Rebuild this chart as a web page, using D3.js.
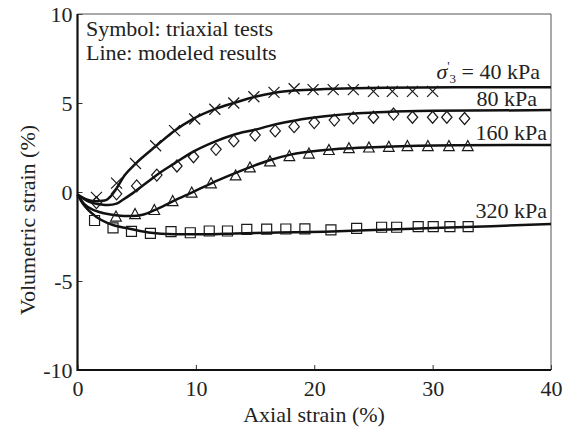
<!DOCTYPE html>
<html>
<head>
<meta charset="utf-8">
<script src="https://cdn.jsdelivr.net/npm/d3@7"></script>
<style>
  html, body { margin: 0; padding: 0; background: #fff; }
  svg { display: block; font-family: "Liberation Serif", "Times New Roman", serif; }
  .tick text { font-size: 22px; fill: #222; }
</style>
</head>
<body>
<svg id="chart" width="585" height="432"></svg>
<script>
// Triaxial test points, [axial strain %, volumetric strain %]
const testsCross40 = [
  [1.6, -0.3], [3.3, 0.5], [4.9, 1.6], [6.6, 2.6], [8.2, 3.45], [9.9, 4.1],
  [11.6, 4.65], [13.2, 5.0], [14.9, 5.35], [16.6, 5.6], [18.3, 5.8], [19.9, 5.75],
  [21.6, 5.75], [23.3, 5.75], [25.0, 5.65], [26.6, 5.65], [28.3, 5.65], [30.0, 5.65]
];
const testsDiamond80 = [
  [1.6, -0.6], [3.3, -0.1], [5.0, 0.34], [6.7, 0.95], [8.4, 1.46], [9.8, 1.98],
  [11.7, 2.4], [13.2, 2.87], [15.0, 3.2], [16.7, 3.43], [18.3, 3.67], [20.0, 3.9],
  [21.7, 4.04], [23.3, 4.16], [25.0, 4.2], [26.7, 4.38], [28.3, 4.2], [30.0, 4.2],
  [31.2, 4.2], [32.7, 4.13]
];
const testsTriangle160 = [
  [3.25, -1.38], [4.86, -1.24], [6.49, -1.01], [8.04, -0.51], [9.65, -0.03],
  [11.28, 0.49], [13.36, 0.93], [14.57, 1.38], [16.26, 1.72], [17.9, 2.02],
  [19.55, 2.16], [21.24, 2.36], [22.93, 2.46], [24.62, 2.5], [26.3, 2.54],
  [27.87, 2.58], [29.6, 2.58], [31.38, 2.58], [32.97, 2.58]
];
const testsSquare320 = [
  [1.44, -1.6], [3.0, -2.02], [4.56, -2.21], [6.16, -2.32], [7.9, -2.23],
  [9.53, -2.29], [11.13, -2.19], [12.67, -2.19], [14.3, -2.1], [15.98, -2.09],
  [17.6, -2.08], [19.21, -2.07], [21.41, -2.13], [23.58, -2.04], [25.69, -1.98],
  [26.96, -1.98], [28.78, -1.95], [30.05, -1.95], [31.46, -1.95], [33.0, -1.95]
];

// Modeled curves
const model40 = [
  [0, -0.15], [0.7, -0.4], [1.5, -0.52], [2.3, -0.48], [2.8, -0.25], [3.2, 0.1],
  [4.0, 0.95], [4.94, 1.61], [6.63, 2.58], [8.2, 3.44], [9.7, 4.08], [11.7, 4.68],
  [13.2, 5.0], [15, 5.35], [16.7, 5.58], [18.3, 5.7], [20.9, 5.78], [26, 5.86],
  [32, 5.88], [40, 5.88]
];
const model80 = [
  [0, -0.15], [1.0, -0.55], [2.0, -0.7], [2.6, -0.73], [3.3, -0.65], [3.8, -0.45],
  [4.7, -0.05], [5.8, 0.5], [6.7, 0.96], [8.2, 1.61], [9.6, 2.2], [11.6, 2.83],
  [13.2, 3.22], [15, 3.5], [16.7, 3.8], [18.4, 4.02], [20.9, 4.25], [23.7, 4.42],
  [26, 4.5], [30, 4.56], [40, 4.6]
];
const model160 = [
  [0, -0.15], [0.6, -0.7], [1.5, -1.05], [3.2, -1.3], [4.6, -1.35], [5.5, -1.28],
  [6.5, -1.02], [8.0, -0.54], [9.65, -0.04], [11.3, 0.49], [12.8, 0.92], [14.6, 1.4],
  [16.3, 1.8], [18, 2.1], [20.9, 2.36], [26, 2.54], [32, 2.62], [40, 2.64]
];
const model320 = [
  [0, -0.15], [0.4, -0.6], [0.9, -1.0], [1.6, -1.4], [2.6, -1.76], [4.3, -2.05],
  [6, -2.27], [8.2, -2.37], [11, -2.38], [13.3, -2.33], [17, -2.28], [20.9, -2.23],
  [25, -2.14], [29.4, -2.04], [35, -1.92], [40, -1.8]
];

const xTicks = [0, 10, 20, 30, 40];
const yTicks = [-10, -5, 0, 5, 10];
const pressureLabels = ["40 kPa", "80 kPa", "160 kPa", "320 kPa"];

const svg = d3.select("#chart");
const ink = "#1a1a1a";

const x = d3.scaleLinear().domain([0, 40]).range([77.5, 551]);
const y = d3.scaleLinear().domain([-10, 10]).range([370, 14]);

// axes, ticks pointing inward
const xAxis = svg.append("g").attr("transform", "translate(0,370)")
  .call(d3.axisBottom(x).tickValues(xTicks).tickSizeInner(-5).tickSizeOuter(0).tickPadding(10).tickFormat(d => String(d)));
const yAxis = svg.append("g").attr("transform", "translate(77.5,0)")
  .call(d3.axisLeft(y).tickValues(yTicks).tickSizeInner(-5).tickSizeOuter(0).tickPadding(5).tickFormat(d => String(d)));
[xAxis, yAxis].forEach(a => {
  a.select(".domain").remove();
  a.selectAll(".tick line").attr("stroke", "#333").attr("stroke-width", 1);
  a.selectAll(".tick text").attr("fill", "#222").style("font-size", "22px")
    .style("font-family", '"Liberation Serif", "Times New Roman", serif');
});

// frame: top/right thin, left/bottom thick
svg.append("path").attr("d", `M${x(0)},${y(10)}H${x(40)}V${y(-10)}`)
  .attr("fill", "none").attr("stroke", "#555").attr("stroke-width", 1);
svg.append("path").attr("d", `M${x(0)},${y(10)}V${y(-10)}H${x(40)}`)
  .attr("fill", "none").attr("stroke", "#111").attr("stroke-width", 2.2);

// model lines
const line = d3.line().x(d => x(d[0])).y(d => y(d[1])).curve(d3.curveMonotoneX);
[model40, model80, model160, model320].forEach(m => {
  svg.append("path").attr("d", line(m)).attr("fill", "none")
    .attr("stroke", "#111").attr("stroke-width", 2.5);
});

// marker shapes
const shapes = {
  cross: "M-5.5,-5.5L5.5,5.5M-5.5,5.5L5.5,-5.5",
  diamond: "M0,-6L5.2,0L0,6L-5.2,0Z",
  triangle: "M0,-5.5L5.3,4.5L-5.3,4.5Z",
  square: "M-5,-5H5V5H-5Z"
};
[[testsCross40, shapes.cross], [testsDiamond80, shapes.diamond],
 [testsTriangle160, shapes.triangle], [testsSquare320, shapes.square]].forEach(([pts, shp]) => {
  svg.append("g").selectAll("path").data(pts).join("path")
    .attr("transform", d => `translate(${x(d[0])},${y(d[1])})`)
    .attr("d", shp).attr("fill", "none").attr("stroke", ink).attr("stroke-width", 1.2);
});

// labels
const txt = (s, px, py, anchor) => svg.append("text").attr("x", px).attr("y", py)
  .attr("text-anchor", anchor || "start").attr("fill", "#222").style("font-size", "22px").text(s);

txt("Symbol: triaxial tests", 86, 36);
txt("Line: modeled results", 86, 60);

// σ'3 = 40 kPa
const sig = svg.append("text").attr("x", 540).attr("y", 79).attr("text-anchor", "end")
  .attr("fill", "#222").style("font-size", "22px");
sig.append("tspan").style("font-style", "italic").text("σ");
sig.append("tspan").style("font-size", "13px").attr("dy", -9).text("'");
sig.append("tspan").style("font-size", "13px").attr("dy", 13).text("3");
sig.append("tspan").attr("dy", -4).text(" = " + pressureLabels[0]);

txt(pressureLabels[1], 537, 106, "end");
txt(pressureLabels[2], 547, 140, "end");
txt(pressureLabels[3], 547, 218, "end");

txt("Axial strain (%)", 314, 422, "middle");
svg.append("text").attr("transform", "translate(35,220) rotate(-90)")
  .attr("text-anchor", "middle").attr("fill", "#222").style("font-size", "22px")
  .text("Volumetric strain (%)");
</script>
</body>
</html>
